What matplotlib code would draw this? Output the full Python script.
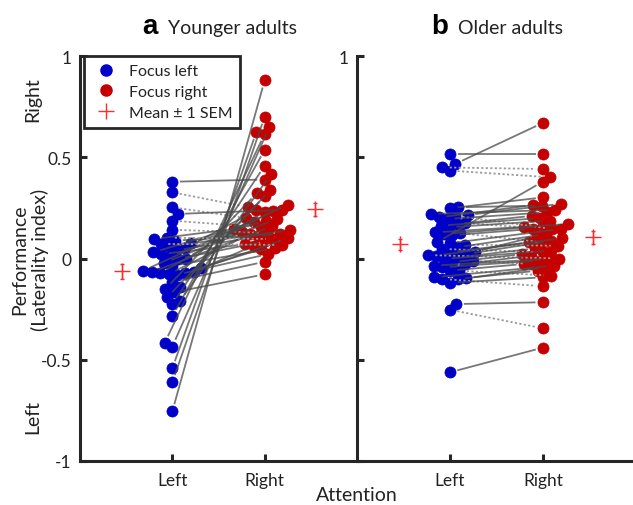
import numpy as np
import matplotlib
matplotlib.use("Agg")
import matplotlib.pyplot as plt
from matplotlib.lines import Line2D

# ---- data: laterality index per participant (focus left, focus right) ----
young_left = [0.379, 0.327, 0.253, 0.22, 0.187, 0.142,
              -0.755, -0.611, -0.542, -0.435, -0.417, -0.285, -0.225, -0.208,
              -0.192, -0.167, -0.151, -0.139, -0.115,
              -0.08, -0.077, -0.072, -0.07, -0.068, -0.065, -0.06, -0.048,
              -0.035, -0.02, -0.002, 0.0, 0.014, 0.022, 0.03, 0.04, 0.05,
              0.06, 0.072, 0.077, 0.088, 0.096, 0.103]
young_right = [0.39, 0.253, 0.2, 0.24, 0.154, 0.126,
               0.88, 0.70, 0.625, 0.65, 0.615, 0.537, 0.458, 0.417,
               0.338, -0.078, 0.323, 0.307, -0.016,
               0.022, 0.121, 0.236, 0.047, 0.159, 0.063, 0.266, 0.10,
               0.05, 0.195, 0.085, 0.231, 0.129, 0.07, 0.179, 0.11, 0.238,
               0.14, 0.067, 0.187, 0.121, 0.146, 0.096]

old_left = [0.516, 0.467, 0.45, 0.434, 0.08, -0.562, -0.253, -0.225, -0.101,
            0.253, 0.248, 0.22, 0.215, 0.211, 0.203, 0.195, 0.175, 0.17,
            0.162, 0.154, 0.129, 0.125, 0.121, 0.115, 0.075, 0.068, 0.055,
            0.047, 0.034, 0.031, 0.022, 0.017, 0.014, 0.006, -0.002, -0.011,
            -0.019, -0.027, -0.035, -0.043, -0.06, -0.06, -0.093, -0.098,
            -0.101, -0.12]
old_right = [0.516, 0.67, 0.442, 0.401, 0.38, -0.44, -0.345, -0.216, -0.137,
             0.261, 0.302, 0.24, 0.27, 0.146, 0.264, 0.228, 0.154, 0.211,
             0.2, 0.187, 0.17, 0.08, 0.16, 0.146, 0.146, 0.063, 0.12,
             0.031, 0.11, 0.1, 0.088, 0.0, 0.08, 0.05, 0.039, -0.027,
             0.022, 0.014, -0.002, -0.01, -0.027, -0.085, -0.035, -0.043,
             -0.06, -0.093]

conditions = ["Left", "Right"]
y_ticks = [-1, -0.5, 0, 0.5, 1]
y_tick_labels = ["-1", "-0.5", "0", "0.5", "1"]
legend_labels = ["Focus left", "Focus right", "Mean \u00b1 1 SEM"]

# ---- style ----
plt.rcParams["font.family"] = ["Lato", "DejaVu Sans"]
BLUE = "#0000c8"
RED = "#c40000"
MEAN_RED = "#ff2a2a"
INK = "#262626"

W, H = 633, 506
fig = plt.figure(figsize=(W / 100, H / 100), dpi=100)
fig.patch.set_facecolor("white")

ax_b = fig.add_axes([357 / W, 44 / H, 279 / W, 405 / H])
ax_a = fig.add_axes([80 / W, 44 / H, 277 / W, 405 / H])


def swarm_offsets(vals, px_per_y, d):
    """Horizontal offsets (pixels) so that markers do not pile up."""
    y = np.asarray(vals, dtype=float) * px_per_y
    xs = np.zeros(len(y))
    placed = []
    for i in np.argsort(y, kind="stable"):
        cands = [0.0]
        for j in placed:
            dy = y[i] - y[j]
            if abs(dy) < d:
                dx = np.sqrt(d * d - dy * dy)
                cands += [xs[j] + dx, xs[j] - dx]
        cands = sorted(set(cands), key=lambda c: (abs(c), -c if i % 2 else c))
        for c in cands:
            if all((c - xs[j]) ** 2 + (y[i] - y[j]) ** 2 >= d * d - 1e-6
                   for j in placed):
                xs[i] = c
                break
        placed.append(i)
    return xs


def style_axes(ax):
    ax.set_xlim(0, 3)
    ax.set_ylim(-1, 1)
    ax.set_facecolor("none")
    for s in ("top", "right"):
        ax.spines[s].set_visible(False)
    for s in ("left", "bottom"):
        ax.spines[s].set_linewidth(2.2)
        ax.spines[s].set_color(INK)
    ax.set_xticks([1, 2])
    ax.set_xticklabels(conditions, fontsize=12.5, color="#222222")
    ax.set_yticks(y_ticks)
    ax.tick_params(axis="both", direction="in", length=5, width=2.2,
                   color=INK)
    ax.tick_params(axis="x", pad=8)
    ax.tick_params(axis="y", pad=6)


def draw_panel(ax, left, right, width_px):
    left = np.asarray(left)
    right = np.asarray(right)
    pxx = width_px / 3.0
    pxy = 405 / 2.0
    xl = 1 + swarm_offsets(left, pxy, 8.5) / pxx
    xr = 2 + swarm_offsets(right, pxy, 8.5) / pxx

    trim = 7.5
    for x1, y1, x2, y2 in zip(xl, left, xr, right):
        p1 = np.array([x1 * pxx, y1 * pxy])
        p2 = np.array([x2 * pxx, y2 * pxy])
        u = (p2 - p1) / np.hypot(*(p2 - p1))
        a = p1 + trim * u
        b = p2 - trim * u
        if y2 >= y1:
            ax.plot([a[0] / pxx, b[0] / pxx], [a[1] / pxy, b[1] / pxy],
                    color="#4a4a4a", alpha=0.75, lw=1.3, zorder=3,
                    solid_capstyle="butt")
        else:
            ax.plot([a[0] / pxx, b[0] / pxx], [a[1] / pxy, b[1] / pxy],
                    color="#9a9a9a", lw=1.3, ls=(0, (1.2, 1.3)), zorder=3)

    ax.plot(xl, left, "o", ms=8, mfc=BLUE, mec=BLUE, mew=0.5, zorder=2)
    ax.plot(xr, right, "o", ms=8, mfc=RED, mec=RED, mew=0.5, zorder=2)

    for xc, vals in ((0.46, left), (2.54, right)):
        m = vals.mean()
        sem = vals.std(ddof=1) / np.sqrt(len(vals))
        ax.errorbar(xc, m, yerr=sem, fmt="+", color=MEAN_RED, ms=12,
                    mew=1.0, elinewidth=1.0, capsize=1.5, capthick=1.0,
                    zorder=4)


style_axes(ax_a)
style_axes(ax_b)
ax_a.set_yticklabels(y_tick_labels, fontsize=12.5, color="#222222")
ax_b.set_yticklabels(["", "", "", "", "1"], fontsize=12.5, color="#222222")

draw_panel(ax_a, young_left, young_right, 277)
draw_panel(ax_b, old_left, old_right, 279)

# ---- panel titles ----
for ax, letter, name, xl_, xr_ in ((ax_a, "a", "Younger adults", 0.282, 0.318),
                                   (ax_b, "b", "Older adults", 0.326, 0.362)):
    ax.text(xl_, 1.057, letter, transform=ax.transAxes, ha="right",
            va="baseline", fontsize=20, fontweight="bold",
            family=["Liberation Sans", "DejaVu Sans"], color="black")
    ax.text(xr_, 1.057, name, transform=ax.transAxes, ha="left",
            va="baseline", fontsize=14, color="#222222")

# ---- axis annotations ----
ax_a.text(-0.17, 0.79, "Right", transform=ax_a.get_yaxis_transform(),
          rotation=90, ha="center", va="center", fontsize=14, color="#222222")
ax_a.text(-0.17, -0.78, "Left", transform=ax_a.get_yaxis_transform(),
          rotation=90, ha="center", va="center", fontsize=14, color="#222222")
fig.text(30 / W, 1 - 260 / H, "Performance\n(Laterality index)", rotation=90,
         ha="center", va="center", multialignment="center", fontsize=14,
         color="#222222", linespacing=1.2)
fig.text(357 / W, 1 - 496 / H, "Attention", ha="center", va="center",
         fontsize=14, color="#222222")

# ---- legend ----
handles = [
    Line2D([], [], ls="none", marker="o", ms=8, mfc=BLUE, mec=BLUE),
    Line2D([], [], ls="none", marker="o", ms=8, mfc=RED, mec=RED),
    Line2D([], [], ls="none", marker="+", ms=12, mew=1.0, color=MEAN_RED),
]
leg = ax_a.legend(handles, legend_labels, loc="upper left",
                  bbox_to_anchor=(4 / 277, 1.0), borderaxespad=0,
                  frameon=True, fancybox=False, framealpha=1,
                  edgecolor=INK, fontsize=11.5, borderpad=0.5,
                  labelspacing=0.42, handlelength=1.7, handletextpad=0.6)
leg.get_frame().set_linewidth(2.0)
for t in leg.get_texts():
    t.set_color("#222222")

fig.savefig("out.png", dpi=100)
